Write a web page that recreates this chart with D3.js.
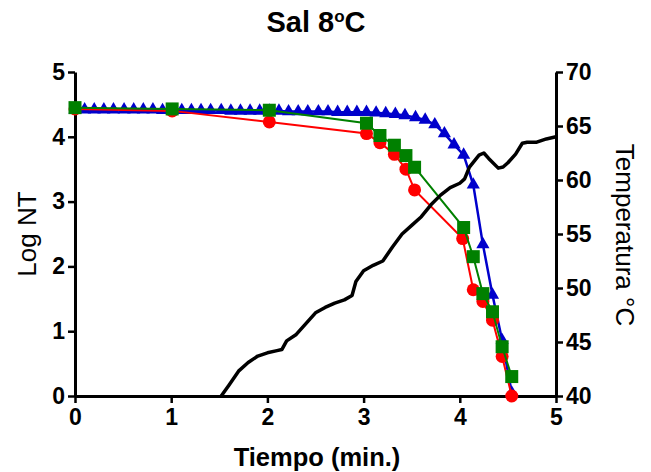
<!DOCTYPE html>
<html>
<head>
<meta charset="utf-8">
<script src="https://cdn.jsdelivr.net/npm/d3@7"></script>
<style>
  body { margin: 0; background: #fff; }
  text { font-family: Arial, "Liberation Sans", sans-serif; }
</style>
</head>
<body>
<div id="chart"></div>
<script>
// Data
const xTicks = [0, 1, 2, 3, 4, 5];
const yTicks = [0, 1, 2, 3, 4, 5];
const tempTicks = [40, 45, 50, 55, 60, 65, 70];

// Blue series (triangles)
const blueTime = [0, 0.10, 0.20, 0.30, 0.40, 0.51, 0.61, 0.71, 0.81, 0.91,
                  1.01, 1.11, 1.21, 1.31, 1.41, 1.52, 1.62, 1.72, 1.82, 1.92,
                  2.02, 2.12, 2.22, 2.32, 2.42, 2.53, 2.63, 2.73, 2.83, 2.93,
                  3.03, 3.13, 3.23, 3.33, 3.43, 3.54, 3.64, 3.74, 3.84, 3.94,
                  4.04, 4.14, 4.24, 4.34, 4.44, 4.54];
const blueLog = [4.42, 4.42, 4.42, 4.42, 4.42, 4.42, 4.42, 4.42, 4.42, 4.41,
                 4.41, 4.41, 4.41, 4.41, 4.41, 4.41, 4.40, 4.40, 4.40, 4.40,
                 4.40, 4.40, 4.39, 4.39, 4.39, 4.39, 4.39, 4.38, 4.38, 4.38,
                 4.38, 4.37, 4.36, 4.35, 4.33, 4.30, 4.26, 4.19, 4.05, 3.88,
                 3.72, 3.26, 2.34, 1.56, 0.86, 0.05];

// Red series (circles)
const redTime = [0, 1.01, 2.02, 3.03, 3.17, 3.32, 3.44, 3.53, 4.03, 4.14, 4.24, 4.34, 4.44, 4.54];
const redLog = [4.43, 4.40, 4.23, 4.05, 3.91, 3.73, 3.50, 3.18, 2.43, 1.64, 1.46, 1.17, 0.61, 0.0];

// Green series (squares)
const greenTime = [0, 1.01, 2.02, 3.03, 3.17, 3.32, 3.44, 3.53, 4.04, 4.14, 4.24, 4.34, 4.44, 4.54];
const greenLog = [4.45, 4.43, 4.41, 4.21, 4.02, 3.87, 3.71, 3.53, 2.60, 2.15, 1.58, 1.30, 0.76, 0.30];

// Temperature (black line, right axis)
const tempTime = [1.52, 1.6, 1.7, 1.8, 1.9, 2.0, 2.1, 2.15, 2.2, 2.3,
                  2.4, 2.5, 2.6, 2.7, 2.8, 2.88, 2.92, 3.0, 3.1, 3.2,
                  3.3, 3.4, 3.5, 3.6, 3.7, 3.8, 3.9, 4.0, 4.05, 4.1,
                  4.2, 4.25, 4.3, 4.4, 4.45, 4.5, 4.58, 4.65, 4.7, 4.8,
                  4.9, 5.0];
const tempValue = [40.0, 41.0, 42.3, 43.1, 43.7, 44.0, 44.2, 44.3, 45.1, 45.7,
                   46.7, 47.7, 48.2, 48.6, 48.9, 49.3, 50.6, 51.6, 52.1, 52.5,
                   53.8, 55.0, 55.8, 56.6, 57.7, 58.6, 59.3, 59.7, 60.1, 61.2,
                   62.3, 62.5, 62.0, 61.1, 61.2, 61.6, 62.4, 63.4, 63.5, 63.5,
                   63.8, 64.0];

// Layout
const width = 651, height = 472;
const plotLeft = 75, plotRight = 556, plotTop = 72, plotBottom = 396;

const svg = d3.select("#chart").append("svg")
    .attr("width", width)
    .attr("height", height);

const x = d3.scaleLinear().domain([0, 5]).range([plotLeft, plotRight]);
const y = d3.scaleLinear().domain([0, 5]).range([plotBottom, plotTop]);
const yT = d3.scaleLinear().domain([40, 70]).range([plotBottom, plotTop]);

// Axes
function styleAxis(g) {
    g.select(".domain").attr("stroke-width", 3).attr("stroke", "#000");
    g.selectAll(".tick line").attr("stroke-width", 2.5).attr("stroke", "#000");
    g.selectAll(".tick text")
        .attr("fill", "#000")
        .style("font-size", "23px")
        .style("font-weight", "bold");
}

svg.append("g")
    .attr("transform", `translate(0,${plotBottom})`)
    .call(d3.axisBottom(x).tickValues(xTicks).tickFormat(d3.format("d"))
        .tickSize(7).tickSizeOuter(0).tickPadding(6))
    .call(styleAxis);

svg.append("g")
    .attr("transform", `translate(${plotLeft},0)`)
    .call(d3.axisLeft(y).tickValues(yTicks).tickFormat(d3.format("d"))
        .tickSize(7).tickSizeOuter(0).tickPadding(3))
    .call(styleAxis);

svg.append("g")
    .attr("transform", `translate(${plotRight},0)`)
    .call(d3.axisRight(yT).tickValues(tempTicks).tickFormat(d3.format("d"))
        .tickSize(7).tickSizeOuter(0).tickPadding(3))
    .call(styleAxis);

// Series lines
function drawSeries(times, values, color, w) {
    const pts = times.map((t, i) => [t, values[i]]);
    svg.append("path")
        .datum(pts)
        .attr("fill", "none")
        .attr("stroke", color)
        .attr("stroke-width", w)
        .attr("d", d3.line().x(d => x(d[0])).y(d => y(d[1])));
    return pts;
}

const bluePts = drawSeries(blueTime, blueLog, "#0000cc", 2.5);
svg.append("g").selectAll("path")
    .data(bluePts)
    .enter().append("path")
    .attr("transform", d => `translate(${x(d[0])},${y(d[1])})`)
    .attr("d", d3.symbol().type(d3.symbolTriangle).size(75))
    .attr("fill", "#0000cc");

const redPts = drawSeries(redTime, redLog, "#ff0000", 2);
svg.append("g").selectAll("circle")
    .data(redPts)
    .enter().append("circle")
    .attr("cx", d => x(d[0]))
    .attr("cy", d => y(d[1]))
    .attr("r", 6.5)
    .attr("fill", "#ff0000");

const greenPts = drawSeries(greenTime, greenLog, "#008000", 2);
svg.append("g").selectAll("rect")
    .data(greenPts)
    .enter().append("rect")
    .attr("x", d => x(d[0]) - 6.5)
    .attr("y", d => y(d[1]) - 6.5)
    .attr("width", 13)
    .attr("height", 13)
    .attr("fill", "#008000");

// Temperature line
svg.append("path")
    .datum(tempTime.map((t, i) => [t, tempValue[i]]))
    .attr("fill", "none")
    .attr("stroke", "#000")
    .attr("stroke-width", 3.5)
    .attr("stroke-linejoin", "round")
    .attr("d", d3.line().x(d => x(d[0])).y(d => yT(d[1])));

// Titles
const title = svg.append("text")
    .attr("x", 316)
    .attr("y", 32)
    .attr("text-anchor", "middle")
    .style("font-size", "29px")
    .style("font-weight", "bold");
title.append("tspan").text("Sal 8");
title.append("tspan").attr("dy", -10).style("font-size", "17px").text("o");
title.append("tspan").attr("dy", 10).text("C");

svg.append("text")
    .attr("x", 317)
    .attr("y", 466)
    .attr("text-anchor", "middle")
    .style("font-size", "25.5px")
    .style("font-weight", "bold")
    .text("Tiempo (min.)");

svg.append("text")
    .attr("transform", "translate(36,234) rotate(-90)")
    .attr("text-anchor", "middle")
    .style("font-size", "26px")
    .text("Log NT");

svg.append("text")
    .attr("transform", "translate(616,235) rotate(90)")
    .attr("text-anchor", "middle")
    .style("font-size", "26px")
    .text("Temperatura °C");
</script>
</body>
</html>
